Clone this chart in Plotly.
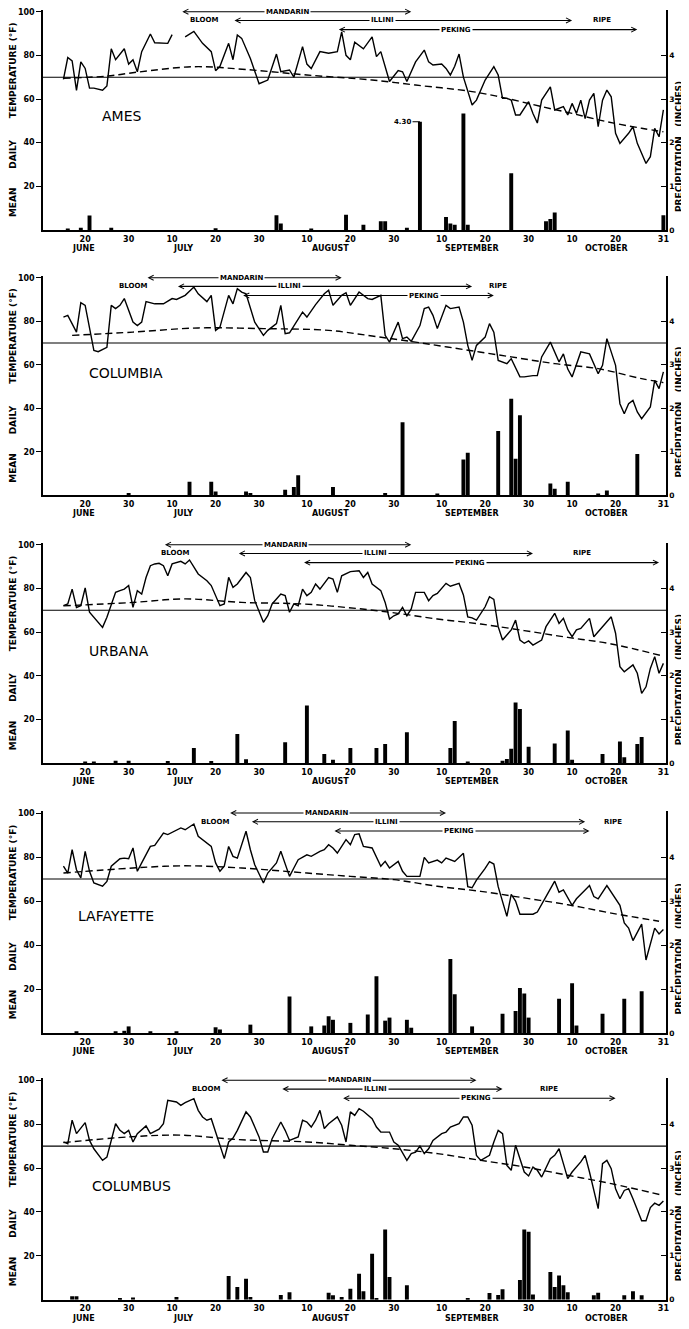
import pandas as pd
import plotly.graph_objects as go

# ---------------------------------------------------------------- data
# Day numbers count days after 31 May: 20 = 20 June, 40 = 10 July,
# 71 = 10 Aug, 102 = 10 Sep, 132 = 10 Oct, 153 = 31 Oct.
BASE_DATE = pd.Timestamp("1941-05-31")

STATIONS = ["AMES", "COLUMBIA", "URBANA", "LAFAYETTE", "COLUMBUS"]
VARIETIES = ["MANDARIN", "ILLINI", "PEKING"]
REFERENCE_TEMP = 70  # horizontal reference line (deg F)

TICK_DAYS = [20, 30, 40, 50, 60, 71, 81, 91, 102, 112, 122, 132, 142, 153]
TICK_LABELS = ["20", "30", "10", "20", "30", "10", "20", "30", "10", "20", "30", "10", "20", "31"]
MONTHS = ["JUNE", "JULY", "AUGUST", "SEPTEMBER", "OCTOBER"]
TEMP_TICKS = [20, 40, 60, 80, 100]
PRECIP_TICKS = [0, 1, 2, 3, 4]

# mean daily temperature (day, deg F); None = gap in the record
AMES_TEMP = [(15,69),(16,79),(17,77.5),(18,64),(19,77),(20,74),(21,65),(22,65),(24,64),(25,66),(26,83),(27,78),(29,83),(30,76),(31,78),(32,72.5),(33,81.7),(35,89.8),(36,85.8),(39,85.5),(40,89.5),(41,None),(43,88.5),(45,91),(47,85.5),(49,81.7),(50,73),(51,75),(53,85.5),(54,78),(55,89.3),(56,87.8),(58,78.6),(60,67),(62,68.7),(64,80.6),(65,72.5),(67,73.3),(68,70),(70,84),(71,76),(72,74),(74,81.7),(76,81),(78,81.7),(79,90.8),(80,80),(81,78),(82,86),(84,83),(86,88.5),(87,79.4),(88,81.7),(89,74.8),(90,68),(92,73),(93,72.5),(94,68),(96,77),(98,82.4),(99,77),(100,75.6),(102,76),(103,74),(104,71),(105,75),(106,80.6),(107,70),(109,57.3),(110,59.5),(112,68.7),(114,74.8),(115,71),(116,60.3),(117,60.3),(118,59.5),(119,52.7),(120,52.7),(122,58.8),(123,53.4),(124,49),(125,59.5),(127,65.6),(128,55),(130,56.5),(131,52.7),(132,58),(133,53.4),(134,59.5),(135,51),(136,59.5),(137,62.6),(138,47.3),(139,59.5),(140,64.1),(141,61),(142,44.3),(143,39.7),(145,44.3),(146,47.3),(147,39.7),(149,30.5),(150,33.6),(151,46.6),(152,42.7),(153,55)]
COLUMBIA_TEMP = [(15,81.9),(16,82.7),(18,75),(19,88.5),(20,87.3),(21,76.6),(22,66.6),(23,66),(25,68),(26,87.3),(27,85.8),(28,87.3),(29,90.4),(31,79.6),(32,78),(33,79.6),(34,89),(36,88),(38,88),(40,90.4),(41,90),(43,91.9),(45,95.7),(46,92.6),(48,89),(49,91.9),(50,75.8),(51,77.3),(53,91.9),(54,88),(55,95),(56,93.4),(57,92.6),(59,79.6),(61,73.5),(62,75.8),(64,78.9),(65,87.3),(66,74.3),(67,74.7),(70,84.2),(71,81.9),(73,87.6),(75,92.6),(76,94.2),(77,87.3),(79,91.9),(80,93.1),(81,87.3),(83,93.4),(85,90.4),(86,90),(88,91.9),(89,73.5),(90,70.4),(92,79.6),(93,72),(94,72.7),(95,70.8),(97,78),(98,85.8),(99,86.5),(100,82.7),(101,76.6),(103,87.3),(104,85.8),(106,86.5),(107,79.6),(108,68.9),(109,62),(110,68.9),(112,72.7),(113,78.9),(114,75),(115,62),(117,60.5),(118,62.8),(120,54.4),(121,54.4),(123,55),(124,55),(125,63.6),(127,70.4),(129,61.3),(130,65),(131,58),(132,54.4),(134,65.9),(136,65),(138,55.9),(139,59.7),(140,72),(142,59.7),(143,42.1),(144,37.5),(145,42.1),(146,43.6),(147,38.3),(148,35.2),(150,40.6),(151,52.8),(152,49),(153,56.7)]
URBANA_TEMP = [(15,72.1),(16,72.9),(17,79.7),(18,71.3),(19,72.1),(20,80.2),(21,69.1),(22,66.8),(24,62.2),(25,66.8),(27,78.2),(28,79),(29,79.7),(30,81.3),(31,71.3),(32,79),(33,77.4),(34,85),(35,90.4),(36,91.2),(37,91.5),(38,90.4),(39,85.8),(40,91.2),(42,92.4),(43,91.2),(44,93),(46,86.6),(48,83.5),(49,81.3),(51,72.1),(52,72.9),(53,85.1),(54,80.5),(55,82),(57,87.3),(58,85),(59,74.4),(61,64.5),(62,67.5),(63,72.9),(65,77.4),(66,76.7),(67,69.1),(68,72.9),(69,72.1),(70,79.7),(71,76.7),(72,78.2),(73,82),(74,79.7),(76,85),(77,84.3),(78,78.2),(79,85.8),(81,87.7),(83,88.1),(84,85),(85,87.3),(86,82),(88,79),(89,73.6),(90,66),(91,67.5),(92,68.3),(93,71.3),(94,67.5),(95,70.6),(96,78.2),(98,78.2),(99,74.4),(100,76.7),(101,77.7),(103,82.3),(104,81),(106,82.3),(107,77),(108,67),(109,66.5),(110,65.5),(112,71.6),(113,76.2),(114,75),(115,62.5),(116,56.4),(118,61),(119,65.5),(120,56.4),(121,54.9),(122,56),(123,54.1),(125,56.4),(126,62.5),(128,68.6),(129,64),(130,66.3),(131,61),(132,57.9),(133,61),(134,61.7),(136,66.3),(137,57.9),(139,62.5),(141,67),(142,59.5),(143,44.2),(144,41.9),(146,45),(147,41.2),(148,32),(149,35),(150,43.4),(151,48.8),(152,41.2),(153,45.7)]
LAFAYETTE_TEMP = [(15,75.8),(16,72.7),(17,83.3),(18,74.2),(19,70.5),(20,82.6),(21,73.5),(22,68.2),(24,66.7),(25,68.9),(26,75.8),(28,79.2),(29,79.5),(30,79.2),(31,84.1),(32,73.5),(33,77.3),(35,84.8),(36,85.3),(38,90.9),(39,90.2),(41,92.4),(42,93.2),(43,92.4),(45,95),(46,89.4),(48,86.4),(49,84.8),(50,77.3),(51,73.5),(52,75.8),(53,84.8),(54,80.3),(55,79.5),(57,91.7),(58,83.3),(59,76.5),(61,68.2),(62,72.7),(64,77.3),(65,82.6),(67,71.2),(68,75),(69,78.8),(71,81),(72,80.3),(74,82.6),(75,83.3),(76,85.6),(77,84.1),(78,81.8),(80,87.9),(81,85.6),(82,90.2),(83,90.5),(84,84.8),(86,84.1),(87,80.3),(88,75.8),(89,78),(90,75),(92,78),(93,73.5),(94,71.2),(96,71.2),(97,71.2),(98,79.8),(99,77.3),(101,78.6),(102,77.3),(103,79.5),(105,78),(107,81.7),(108,66.5),(109,66),(110,69.5),(112,74.8),(113,77.9),(114,76.8),(115,66.5),(117,53),(118,63),(119,60),(120,54),(123,54),(124,55),(126,62),(128,69),(129,64),(130,65),(132,58),(133,61),(135,65),(136,67),(137,62),(138,61),(140,67),(141,64),(143,58),(144,50),(145,47.7),(146,42),(148,49.5),(149,33.2),(151,47.7),(152,45),(153,47)]
COLUMBUS_TEMP = [(15,71.9),(16,71.1),(17,81.8),(18,75.7),(20,80.7),(21,72.6),(22,68.8),(24,63.5),(25,65),(27,80.2),(28,77.2),(29,75.7),(30,77.2),(31,71.9),(32,75.7),(34,79.2),(35,75.7),(37,77.7),(38,80.2),(39,90.9),(41,90.1),(42,88.6),(43,89.8),(45,91.6),(46,86.3),(47,83.3),(48,81.8),(49,82.5),(50,76.4),(51,70.4),(52,64.3),(53,71.9),(54,73.7),(55,77.2),(57,85.6),(58,83.3),(60,74.2),(61,67.3),(62,67.3),(63,73.4),(65,81),(66,77.2),(67,72.6),(69,74.2),(70,81.8),(71,81),(72,78.7),(73,81.8),(74,86.3),(75,78),(76,80.2),(78,83.3),(79,79.5),(80,71.9),(81,85.6),(82,84),(83,87.1),(84,85.9),(86,82.5),(87,78.7),(88,76.4),(90,76.4),(91,71.9),(92,70.4),(94,63.5),(95,66.6),(96,67.3),(97,70),(98,66.6),(99,68.8),(100,72.6),(102,75.7),(103,76.4),(104,78.7),(106,80.2),(107,83.3),(108,83.3),(109,79.5),(110,65.8),(111,63.5),(113,65.8),(114,71.9),(115,77.2),(116,75.7),(117,61.2),(118,59),(119,70.4),(121,58.2),(122,56.4),(123,60.5),(124,59),(125,55.9),(127,64.3),(128,65.8),(129,68.8),(130,62),(131,55.2),(132,58.2),(134,62.8),(135,65.8),(136,58.2),(138,41.5),(139,62),(140,63.5),(141,59.7),(142,50.6),(143,46),(144,49.8),(145,50.6),(146,46),(148,36),(149,36),(150,42),(151,44),(152,43),(153,45)]

# normal mean temperature (day, deg F)
AMES_NORMAL = [(15,69.5),(25,70.5),(32,72.3),(45,74.8),(57,73.5),(71,71),(86,68.7),(96,66.4),(109,63.4),(117,60.3),(125,56.5),(132,53.4),(140,49.6),(148,46.6),(153,45)]
COLUMBIA_NORMAL = [(17,73.5),(31,75),(46,76.9),(61,76.6),(76,75.8),(86,73.2),(96,70.4),(107,67),(118,63.6),(128,60.5),(138,58.2),(148,53.6),(153,51.8)]
URBANA_NORMAL = [(15,72),(31,73.6),(43,75.2),(56,73.6),(70,72.9),(80,71.3),(90,69.1),(101,66),(111,63.7),(121,60.7),(131,57.6),(141,54.6),(153,49)]
LAFAYETTE_NORMAL = [(15,72.7),(31,75),(43,76),(56,75),(71,72.7),(81,71.2),(91,69.7),(101,66.7),(111,64.4),(121,61.4),(131,58.3),(141,54.5),(152,50.8)]
COLUMBUS_NORMAL = [(15,71.6),(30,74.2),(42,75),(55,73),(71,71.9),(81,70.4),(91,68.8),(101,66.6),(111,63.5),(121,60.5),(131,56.7),(141,52.9),(153,47.5)]

# daily precipitation (day, inches)
AMES_PRECIP = [(16,0.03),(19,0.05),(21,0.33),(26,0.05),(50,0.04),(64,0.34),(65,0.15),(72,0.03),(80,0.35),(84,0.12),(88,0.2),(89,0.2),(94,0.05),(97,4.30),(103,0.3),(104,0.15),(105,0.12),(107,2.67),(108,0.12),(118,1.3),(126,0.2),(127,0.25),(128,0.4),(153,0.34)]
COLUMBIA_PRECIP = [(30,0.05),(44,0.31),(49,0.31),(50,0.09),(57,0.09),(58,0.05),(66,0.13),(68,0.19),(69,0.46),(77,0.19),(89,0.05),(93,1.68),(101,0.02),(107,0.82),(108,0.98),(115,1.48),(118,2.22),(119,0.84),(120,1.84),(127,0.27),(128,0.15),(131,0.31),(138,0.04),(140,0.11),(147,0.95)]
URBANA_PRECIP = [(20,0.02),(22,0.03),(27,0.06),(30,0.06),(39,0.05),(45,0.35),(49,0.05),(55,0.67),(57,0.09),(66,0.48),(71,1.32),(75,0.21),(77,0.08),(81,0.35),(87,0.35),(89,0.44),(94,0.71),(104,0.35),(105,0.97),(108,0.02),(116,0.06),(117,0.1),(118,0.33),(119,1.39),(120,1.24),(122,0.38),(128,0.45),(131,0.75),(132,0.08),(139,0.21),(143,0.5),(144,0.14),(147,0.44),(148,0.6)]
LAFAYETTE_PRECIP = [(18,0.04),(27,0.04),(29,0.05),(30,0.15),(35,0.04),(41,0.04),(50,0.13),(51,0.08),(58,0.19),(67,0.83),(72,0.15),(75,0.17),(76,0.38),(77,0.3),(81,0.23),(85,0.42),(87,1.29),(89,0.28),(90,0.35),(94,0.3),(95,0.12),(104,1.68),(105,0.88),(109,0.15),(116,0.44),(119,0.5),(120,1.02),(121,0.9),(122,0.35),(129,0.78),(132,1.13),(133,0.17),(139,0.44),(144,0.78),(148,0.95)]
COLUMBUS_PRECIP = [(17,0.08),(18,0.08),(28,0.04),(31,0.05),(41,0.06),(53,0.54),(55,0.29),(57,0.48),(58,0.06),(65,0.11),(67,0.17),(76,0.16),(77,0.1),(79,0.06),(81,0.25),(83,0.59),(84,0.19),(86,1.05),(87,0.04),(89,1.6),(90,0.52),(94,0.33),(108,0.04),(113,0.15),(115,0.11),(116,0.24),(120,0.45),(121,1.6),(122,1.55),(123,0.12),(127,0.63),(128,0.29),(129,0.55),(130,0.33),(131,0.17),(137,0.1),(138,0.16),(144,0.1),(146,0.19),(148,0.1)]

# bloom-to-ripe periods (start day, end day) for MANDARIN, ILLINI, PEKING
AMES_PERIODS = [(42, 95), (54, 132), (78, 147)]
COLUMBIA_PERIODS = [(34, 79), (41, 109), (56, 114)]
URBANA_PERIODS = [(38, 95), (55, 123), (70, 152)]
LAFAYETTE_PERIODS = [(53, 103), (58, 135), (77, 136)]
COLUMBUS_PERIODS = [(51, 110), (65, 116), (79, 142)]

DATA = {
    "AMES": (AMES_TEMP, AMES_NORMAL, AMES_PRECIP, AMES_PERIODS),
    "COLUMBIA": (COLUMBIA_TEMP, COLUMBIA_NORMAL, COLUMBIA_PRECIP, COLUMBIA_PERIODS),
    "URBANA": (URBANA_TEMP, URBANA_NORMAL, URBANA_PRECIP, URBANA_PERIODS),
    "LAFAYETTE": (LAFAYETTE_TEMP, LAFAYETTE_NORMAL, LAFAYETTE_PRECIP, LAFAYETTE_PERIODS),
    "COLUMBUS": (COLUMBUS_TEMP, COLUMBUS_NORMAL, COLUMBUS_PRECIP, COLUMBUS_PERIODS),
}

# ---------------------------------------------------------------- style / layout
PAGE = 8                      # default body margin of the html page (px)
WIN_W, WIN_H = 689, 1329
W, H = WIN_W - PAGE, WIN_H - PAGE
PLOT_L_WIN, PLOT_R_WIN = 43, 666          # plot-area edges in window pixels
ML, MR = PLOT_L_WIN - PAGE, W - (PLOT_R_WIN - PAGE)
# (y of 100 F, y of 0) for each panel, in window pixels
PANEL_PX = [(11.7, 230.0), (277.7, 495.3), (544.7, 763.3), (813.0, 1033.0), (1080.3, 1299.7)]
MONTH_OFFSET_PX = 18.5
RIGHT_TITLE_X_WIN = 679
RIGHT_TITLE_T = 38      # vertical centre of the right title, in deg F units
X_RANGE_DAYS = (10.3, 153.6)
T_TOP = 101.0
P_TOP = T_TOP / 20.0
OFFSCALE = 4.0        # precipitation drawn broken above this
BREAK_HEIGHT = 2.48   # height at which an off-scale bar is cut
ARROW_LEVELS = [100, 96, 91.8]
SIDE_LEVEL = 96
MONTH_POS = [19.5, 42.5, 76.5, 109, 140]
LABEL_POS = {
    "AMES": dict(var=[66.5, 88.3, 105.4], bloom=47.3, ripe=138.8, name=(23.5, 52)),
    "COLUMBIA": dict(var=[55.9, 67, 97.9], bloom=31.1, ripe=115, name=(20.5, 56)),
    "URBANA": dict(var=[66, 86.7, 108.5], bloom=40.7, ripe=134.3, name=(20.5, 51.5)),
    "LAFAYETTE": dict(var=[75.6, 89.3, 106], bloom=49.8, ripe=141.3, name=(18, 53)),
    "COLUMBUS": dict(var=[80.7, 86.7, 110], bloom=47.8, ripe=126.7, name=(21, 52)),
}
FONT = "DejaVu Sans"
small = dict(family=FONT, size=7, color="black", weight="bold")
tickf = dict(family=FONT, size=8, color="black", weight="bold")
rtickf = dict(family=FONT, size=7.5, color="black", weight="bold")
titlef = dict(family=FONT, size=9, color="black", weight="bold")
NB = "\u00a0"
LEFT_TITLE = "MEAN" + NB * 6 + "DAILY" + NB * 7 + "TEMPERATURE" + NB + "(°F)"
RIGHT_TITLE = "PRECIPITATION" + NB * 3 + "(INCHES)"


def d2s(d):
    return (BASE_DATE + pd.Timedelta(days=float(d))).strftime("%Y-%m-%d %H:%M")


def py(win_px):
    """window pixel row -> paper fraction"""
    return 1 - (win_px - PAGE) / H


fig = go.Figure()
layout = dict(template="none", width=W, height=H, margin=dict(l=ML, r=MR, t=0, b=0, pad=0),
              paper_bgcolor="white", plot_bgcolor="white", showlegend=False,
              font=dict(family=FONT, color="black"),
              annotations=[], shapes=[])

for i, st in enumerate(STATIONS):
    temp, normal, precip, periods = DATA[st]
    xa = "x" if i == 0 else f"x{i + 1}"
    pa = "y" if i == 0 else f"y{2 * i + 1}"
    ta = f"y{2 * i + 2}"
    xk = xa.replace("x", "xaxis")
    pk = pa.replace("y", "yaxis")
    tk = ta.replace("y", "yaxis")

    y100, y0 = PANEL_PX[i]
    scale = (y0 - y100) / 100.0
    top_px = y100 - (T_TOP - 100) * scale
    dom = [py(y0), py(top_px)]

    # precipitation bars (base axis, right side)
    bx = [d2s(d) for d, v in precip]
    by = [BREAK_HEIGHT if v > OFFSCALE else v for d, v in precip]
    fig.add_trace(go.Bar(x=bx, y=by, width=0.9 * 86400000, marker=dict(color="black", line=dict(width=0)),
                         xaxis=xa, yaxis=pa))
    for d, v in precip:
        if v > OFFSCALE:
            layout["annotations"].append(dict(x=d2s(d - 1.6), y=BREAK_HEIGHT, xref=xa, yref=pa, text=f"{v:.2f}",
                                              showarrow=False, xanchor="right", yanchor="middle", font=small))
            layout["shapes"].append(dict(type="line", xref=xa, yref=pa, x0=d2s(d - 1.7), x1=d2s(d),
                                         y0=BREAK_HEIGHT, y1=BREAK_HEIGHT, line=dict(color="black", width=1.2)))

    # normal temperature (dashed) and observed daily mean temperature
    fig.add_trace(go.Scatter(x=[d2s(d) for d, v in normal], y=[v for d, v in normal], mode="lines",
                             line=dict(color="black", width=1.4, dash="7px,4px", shape="spline", smoothing=1.0),
                             xaxis=xa, yaxis=ta, hoverinfo="skip"))
    fig.add_trace(go.Scatter(x=[d2s(d) for d, v in temp], y=[v for d, v in temp], mode="lines",
                             line=dict(color="black", width=1.4), connectgaps=False,
                             xaxis=xa, yaxis=ta))

    layout[xk] = dict(domain=[0, 1], anchor=pa, type="date", automargin=False,
                      range=[d2s(X_RANGE_DAYS[0]), d2s(X_RANGE_DAYS[1])],
                      tickvals=[d2s(d) for d in TICK_DAYS], ticktext=TICK_LABELS,
                      tickfont=tickf, ticks="", showgrid=False, zeroline=False, ticklabeloverflow="allow",
                      showline=True, linecolor="black", linewidth=1.8)
    layout[pk] = dict(domain=dom, anchor=xa, side="right", range=[0, P_TOP], automargin=False,
                      tickvals=PRECIP_TICKS, ticktext=[str(t) for t in PRECIP_TICKS],
                      tickfont=rtickf, ticks="inside", ticklen=5, tickwidth=1.2, tickcolor="black",
                      ticklabeloverflow="allow",
                      showgrid=False, zeroline=False, showline=True, linecolor="black", linewidth=1.6)
    layout[tk] = dict(overlaying=pa, anchor=xa, side="left", range=[0, T_TOP], automargin=False,
                      tickvals=TEMP_TICKS, ticktext=[str(t) for t in TEMP_TICKS],
                      tickfont=tickf, ticks="outside", ticklen=5, tickwidth=1.2, tickcolor="black",
                      ticklabeloverflow="allow",
                      showgrid=False, zeroline=False, showline=True, linecolor="black", linewidth=1.6,
                      title=dict(text=LEFT_TITLE, font=titlef, standoff=4))

    # right-hand axis title
    ry = py(y0 - RIGHT_TITLE_T * scale)
    rx = (RIGHT_TITLE_X_WIN - PLOT_L_WIN) / (PLOT_R_WIN - PLOT_L_WIN)
    layout["annotations"].append(dict(x=rx, y=ry, xref="paper", yref="paper", text=RIGHT_TITLE, textangle=-90,
                                      showarrow=False, xanchor="center", yanchor="middle", font=titlef))

    # reference line at 70 F
    layout["shapes"].append(dict(type="line", xref=f"{xa} domain", yref=ta, x0=0, x1=1,
                                 y0=REFERENCE_TEMP, y1=REFERENCE_TEMP, line=dict(color="black", width=1.1)))

    pos = LABEL_POS[st]
    for k, (name, (s, e)) in enumerate(zip(VARIETIES, periods)):
        lvl = ARROW_LEVELS[k]
        layout["annotations"].append(dict(x=d2s(e), y=lvl, xref=xa, yref=ta, ax=d2s(s), ay=lvl,
                                          axref=xa, ayref=ta, text="", showarrow=True,
                                          arrowhead=5, startarrowhead=5, arrowside="end+start",
                                          arrowsize=0.9, startarrowsize=0.9, arrowwidth=1.1,
                                          arrowcolor="black", standoff=0, startstandoff=0))
        layout["annotations"].append(dict(x=d2s(pos["var"][k]), y=lvl, xref=xa, yref=ta, text=name,
                                          showarrow=False, font=small, bgcolor="white", borderpad=1))
    layout["annotations"].append(dict(x=d2s(pos["bloom"]), y=SIDE_LEVEL, xref=xa, yref=ta, text="BLOOM",
                                      showarrow=False, font=small, bgcolor="white", borderpad=0))
    layout["annotations"].append(dict(x=d2s(pos["ripe"]), y=SIDE_LEVEL, xref=xa, yref=ta, text="RIPE",
                                      showarrow=False, font=small, bgcolor="white", borderpad=0))
    nx, ny = pos["name"]
    layout["annotations"].append(dict(x=d2s(nx), y=ny, xref=xa, yref=ta, text=st, showarrow=False,
                                      xanchor="left", yanchor="middle",
                                      font=dict(family=FONT, size=14, color="black")))
    month_y = py(y0 + MONTH_OFFSET_PX)
    for m, mx in zip(MONTHS, MONTH_POS):
        layout["annotations"].append(dict(x=d2s(mx), y=month_y, xref=xa, yref="paper", text=m,
                                          showarrow=False, yanchor="middle", font=tickf))

fig.update_layout(**layout)
fig.write_html("out.html")
